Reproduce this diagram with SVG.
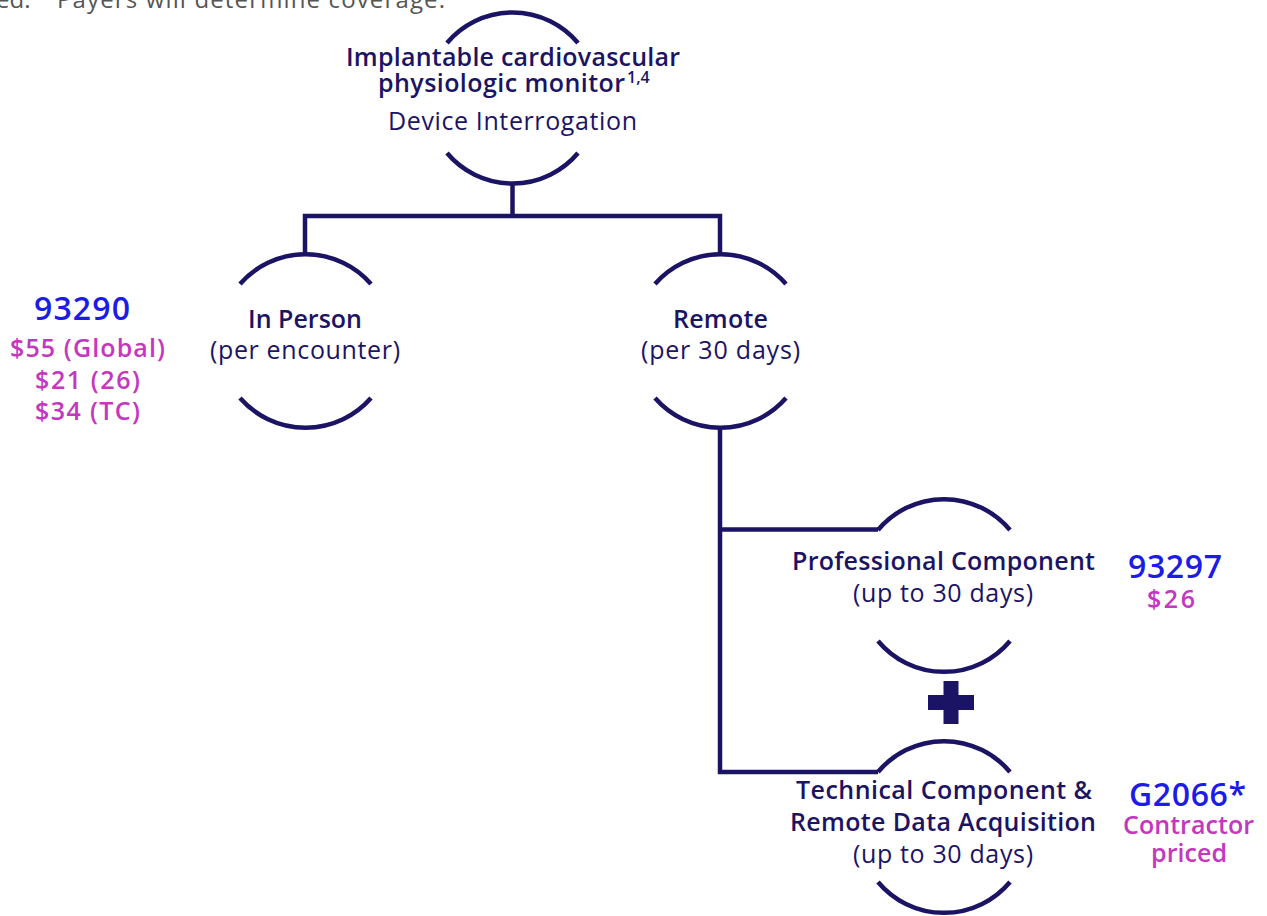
<svg xmlns="http://www.w3.org/2000/svg" width="1267" height="916" viewBox="0 0 1267 916">
  <style>
    .ring { fill: none; stroke: #1b1464; stroke-width: 4.5; stroke-linecap: butt; }
    .wire { fill: none; stroke: #1b1464; stroke-width: 4.5; stroke-linejoin: miter; }
    .t { font-family: "Open Sans", "Noto Sans", sans-serif; text-anchor: middle; fill: #1b1464; }
    .b { font-weight: 600; font-size: 25px; }
    .r { font-weight: normal; font-size: 25px; }
    .sup { font-family: "Open Sans", "Noto Sans", sans-serif; font-weight: 600; font-size: 16px; fill: #1b1464; }
    .code { font-family: "Open Sans", "Noto Sans", sans-serif; text-anchor: middle; font-weight: 600; font-size: 32px; fill: #1c1ce8; }
    .price { font-family: "Open Sans", "Noto Sans", sans-serif; text-anchor: middle; font-weight: 600; font-size: 25px; fill: #c437bf; }
    .note { font-family: "Open Sans", "Noto Sans", sans-serif; font-size: 24px; fill: #555555; }
  </style>
  <rect width="1267" height="916" fill="#ffffff"/>

  <!-- trailing line of the preceding footnote -->
  <text class="note" x="-4" y="8">ed.</text>
  <text class="note" x="57" y="8" textLength="388">Payers will determine coverage.</text>

  <!-- connectors -->
  <g id="connectors">
    <path class="wire" d="M512.5,183 V216"/>
    <path class="wire" d="M305,254 V216 H720 V254"/>
    <path class="wire" d="M720,428 V772 H878"/>
    <path class="wire" d="M720,529.5 H878"/>
  </g>

  <!-- root node -->
  <g id="node-monitor">
    <path class="ring" d="M447,43 A85.5,85.5 0 0 1 578,43"/>
    <path class="ring" d="M447,153 A85.5,85.5 0 0 0 578,153"/>
    <text class="t b" x="513" y="66" textLength="334">Implantable cardiovascular</text>
    <text class="t b" x="501.5" y="92" textLength="247">physiologic monitor</text>
    <text class="sup" x="627" y="83">1,4</text>
    <text class="t r" x="512.5" y="130" textLength="249">Device Interrogation</text>
  </g>

  <!-- in person -->
  <g id="node-in-person">
    <path class="ring" d="M240,284 A87,87 0 0 1 371,284"/>
    <path class="ring" d="M240,398 A87,87 0 0 0 371,398"/>
    <text class="t b" x="305" y="328" textLength="114">In Person</text>
    <text class="t r" x="305" y="359" textLength="190">(per encounter)</text>
  </g>
  <g id="code-93290">
    <text class="code" x="82" y="320" textLength="96">93290</text>
    <text class="price" x="87.5" y="357" textLength="155">$55 (Global)</text>
    <text class="price" x="87.5" y="389" textLength="105">$21 (26)</text>
    <text class="price" x="87.5" y="420" textLength="105">$34 (TC)</text>
  </g>

  <!-- remote -->
  <g id="node-remote">
    <path class="ring" d="M655,284 A87,87 0 0 1 786,284"/>
    <path class="ring" d="M655,398 A87,87 0 0 0 786,398"/>
    <text class="t b" x="720.5" y="328" textLength="95">Remote</text>
    <text class="t r" x="720.5" y="359" textLength="159">(per 30 days)</text>
  </g>

  <!-- professional component -->
  <g id="node-professional">
    <path class="ring" d="M878,530 A86,86 0 0 1 1010,530"/>
    <path class="ring" d="M878,641 A86,86 0 0 0 1010,641"/>
    <text class="t b" x="943.5" y="570" textLength="303">Professional Component</text>
    <text class="t r" x="943" y="602" textLength="180">(up to 30 days)</text>
  </g>
  <g id="code-93297">
    <text class="code" x="1175" y="578" textLength="94">93297</text>
    <text class="price" x="1171" y="608" textLength="48">$26</text>
  </g>

  <!-- plus sign -->
  <g id="plus" fill="#1b1464">
    <rect x="943.5" y="681" width="15" height="43"/>
    <rect x="928" y="695" width="46" height="15"/>
  </g>

  <!-- technical component -->
  <g id="node-technical">
    <path class="ring" d="M878,772 A86,86 0 0 1 1010,772"/>
    <path class="ring" d="M878,882 A86,86 0 0 0 1010,882"/>
    <text class="t b" x="944" y="799" textLength="296">Technical Component &amp;</text>
    <text class="t b" x="943" y="831" textLength="306">Remote Data Acquisition</text>
    <text class="t r" x="943" y="863" textLength="180">(up to 30 days)</text>
  </g>
  <g id="code-G2066">
    <text class="code" x="1187.5" y="806" textLength="117">G2066*</text>
    <text class="price" x="1188.5" y="834" textLength="131">Contractor</text>
    <text class="price" x="1189" y="862" textLength="76">priced</text>
  </g>
</svg>
